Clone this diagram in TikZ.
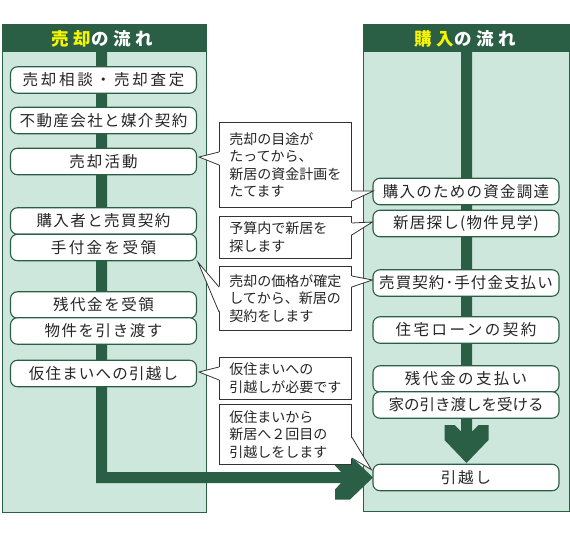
\documentclass[tikz,border=0pt]{standalone}
\usepackage{fontspec}
\setmainfont{Noto Sans CJK JP}
\definecolor{hdgreen}{HTML}{2A5E45}
\definecolor{panelmint}{HTML}{CEE7DC}
\definecolor{hdyellow}{HTML}{F6F600}
\newcommand{\spaced}[2]{{\addfontfeature{LetterSpace=#1}#2}}
% pointer of a callout: base a, tip, base b, inward shift
\newcommand{\callpointer}[4]{%
  \fill[white] ([xshift=#4]#1) -- (#2) -- ([xshift=#4]#3) -- cycle;
  \draw[black!80,line width=0.8pt] (#1) -- (#2) -- (#3);}

\begin{document}
\begin{tikzpicture}[x=1pt,y=-1pt,
  flowbox/.style={draw=hdgreen,line width=1.1pt,fill=white,rounded corners=7pt,
    minimum width=186pt,minimum height=26.5pt,inner sep=0pt,
    font=\fontsize{15.5}{18}\selectfont,text=black!85},
  callout/.style={draw=black!80,line width=0.8pt,fill=white,anchor=north west,
    minimum width=132pt,text width=112pt,inner xsep=10pt,inner ysep=0pt,align=left,
    font=\fontsize{14}{17.5}\selectfont,text=black!85},
  header/.style={font=\fontsize{17.5}{20}\selectfont\bfseries}]
\useasboundingbox (0,0) rectangle (570,540);

% panels
\fill[panelmint] (2,25) rectangle (206,512);
\draw[hdgreen,line width=1pt] (2,25) rectangle (206,512);
\fill[hdgreen] (2,25) rectangle (206,52);
\fill[panelmint] (363,25) rectangle (569,511);
\draw[hdgreen,line width=1pt] (363,25) rectangle (569,511);
\fill[hdgreen] (363,25) rectangle (569,52);

\node[header] (saletitle) at (102.5,38.5) {\spaced{27}{\textcolor{hdyellow}{売却}\textcolor{white}{の流れ}}};
\node[header] (buytitle) at (465.5,38.5) {\spaced{27}{\textcolor{hdyellow}{購入}\textcolor{white}{の流れ}}};

% flow bars with arrow heads
\fill[hdgreen] (96,52) -- (107,52) -- (107,472) -- (341,472) -- (335,465.5) -- (335,455.5)
  -- (350,455.5) -- (373,477.5) -- (350,499.5) -- (335,499.5) -- (335,489.5) -- (341,483)
  -- (96,483) -- cycle;
\fill[hdgreen] (461,52) -- (472,52) -- (472,431.5) -- (478.5,425) -- (488.5,425) -- (488.5,440)
  -- (466.5,463) -- (444.5,440) -- (444.5,425) -- (454.5,425) -- (461,431.5) -- cycle;

% selling steps
\node[flowbox] (sa1) at (103.5,80) {\spaced{18}{売却相談・売却査定}};
\node[flowbox] (sa2) at (103.5,120.5) {\spaced{9}{不動産会社と媒介契約}};
\node[flowbox] (sa3) at (103.5,161.5) {\spaced{13}{売却活動}};
\node[flowbox] (sa4) at (103.5,221) {\spaced{9}{購入者と売買契約}};
\node[flowbox] (sa5) at (103.5,247.5) {\spaced{16}{手付金を受領}};
\node[flowbox] (sa6) at (103.5,305) {\spaced{10}{残代金を受領}};
\node[flowbox] (sa7) at (103.5,331) {\spaced{10}{物件を引き渡す}};
\node[flowbox] (sa8) at (103.5,373.5) {\spaced{8}{仮住まいへの引越し}};

% buying steps
\node[flowbox] (pu1) at (466,191.5) {\spaced{8}{購入のための資金調達}};
\node[flowbox] (pu2) at (466,223.5) {\spaced{8}{新居探し(物件見学)}};
\node[flowbox] (pu3) at (466,283) {\spaced{7}{売買契約･手付金支払い}};
\node[flowbox] (pu4) at (466,330) {\spaced{16}{住宅ローンの契約}};
\node[flowbox] (pu5) at (466,379) {\spaced{15}{残代金の支払い}};
\node[flowbox] (pu6) at (466,405) {家の引き渡しを受ける};
\node[flowbox] (pu7) at (466,477.5) {\spaced{12}{引越し}};

% callouts
\node[callout,minimum height=85pt] (ca1) at (219,122) {売却の目途が\\たってから、\\新居の資金計画を\\たてます};
\node[callout,minimum height=42pt] (ca2) at (219,216) {予算内で新居を\\探します};
\node[callout,minimum height=64pt] (ca3) at (219,266) {売却の価格が確定\\してから、新居の\\契約をします};
\node[callout,minimum height=42pt] (ca4) at (219,357) {仮住まいへの\\引越しが必要です};
\node[callout,minimum height=60pt] (ca5) at (219,404) {仮住まいから\\新居へ２回目の\\引越しをします};

% pointers
\coordinate (p1a) at ([shift={(0,30)}]ca1.north west);
\coordinate (p1b) at ([shift={(0,43)}]ca1.north west);
\coordinate (p1t) at ([shift={(2,-4.5)}]sa3.east);
\coordinate (p2a) at ([shift={(0,69)}]ca1.north east);
\coordinate (p2b) at ([shift={(0,79)}]ca1.north east);
\coordinate (p2t) at ([shift={(1,-0.5)}]pu1.west);
\coordinate (p3a) at ([shift={(0,7)}]ca2.north east);
\coordinate (p3b) at ([shift={(0,19)}]ca2.north east);
\coordinate (p3t) at ([shift={(0,-1.5)}]pu2.west);
\coordinate (p4a) at ([shift={(0,21)}]ca3.north west);
\coordinate (p4b) at ([shift={(0,46)}]ca3.north west);
\coordinate (p4t) at ([shift={(1,1)}]sa5.south east);
\coordinate (p5a) at ([shift={(0,10)}]ca3.north east);
\coordinate (p5b) at ([shift={(0,21)}]ca3.north east);
\coordinate (p5t) at ([shift={(0,-3)}]pu3.west);
\coordinate (p6a) at ([shift={(0,10)}]ca4.north west);
\coordinate (p6b) at ([shift={(0,23)}]ca4.north west);
\coordinate (p6t) at ([shift={(2,-1.5)}]sa8.east);
\coordinate (p7a) at ([shift={(0,33)}]ca5.north east);
\coordinate (p7b) at ([shift={(0,54)}]ca5.north east);
\coordinate (p7t) at ([shift={(-1,6)}]pu7.north west);
\callpointer{p1a}{p1t}{p1b}{1pt}
\callpointer{p2a}{p2t}{p2b}{-1pt}
\callpointer{p3a}{p3t}{p3b}{-1pt}
\callpointer{p4a}{p4t}{p4b}{1pt}
\callpointer{p5a}{p5t}{p5b}{-1pt}
\callpointer{p6a}{p6t}{p6b}{1pt}
\callpointer{p7a}{p7t}{p7b}{-1pt}
\end{tikzpicture}
\end{document}
